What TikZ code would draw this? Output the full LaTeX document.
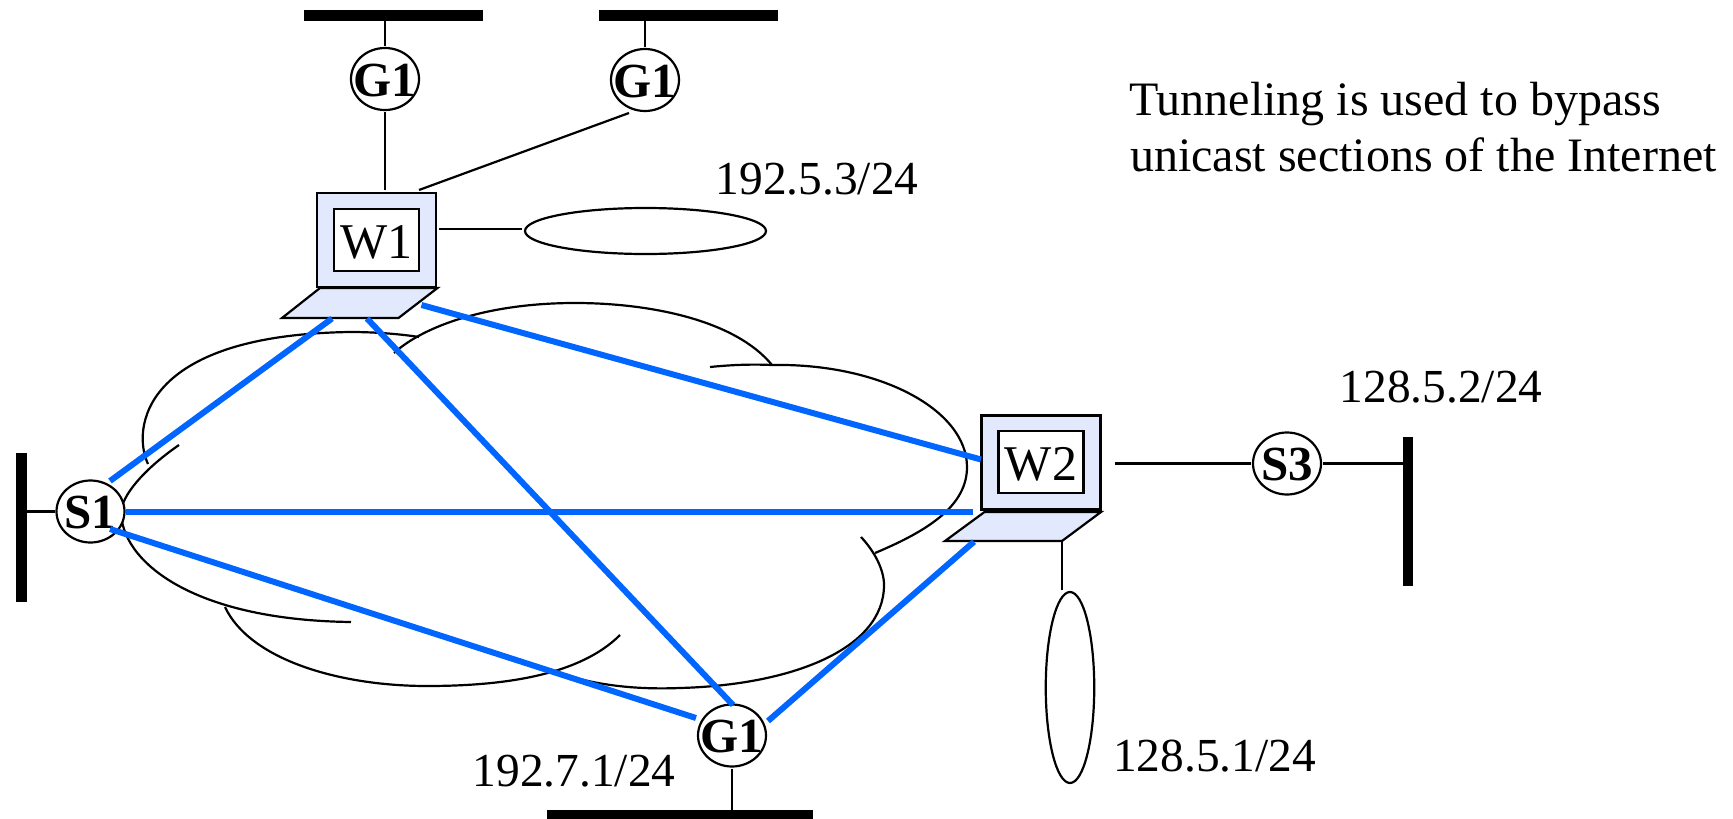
\documentclass[tikz,border=0pt]{standalone}
\usepackage{fontspec}
\setmainfont{Liberation Serif}
\usepackage{xcolor}
\usetikzlibrary{shapes.geometric}
\definecolor{TunnelBlue}{HTML}{0066FF}
\definecolor{HostBlue}{HTML}{E3E9FC}
\newcommand{\rname}[1]{\smash{\raisebox{-0.35em}{\makebox[0pt]{#1}}}}

\begin{document}
\begin{tikzpicture}[x=1pt, y=-1pt,
        label/.style={inner sep=0pt, anchor=base west, font=\fontsize{47.4}{50}\selectfont},
        note/.style={inner sep=0pt, anchor=base west, font=\fontsize{48}{50}\selectfont},
        router/.style={ellipse, draw, fill=white, line width=2.2pt, inner sep=0pt, minimum width=68pt, minimum height=62pt, outer sep=2pt, font=\fontsize{49}{50}\selectfont\bfseries},
        lan/.style={ellipse, draw, line width=2.2pt, inner sep=0pt, outer sep=2pt},
        bar/.style={fill=black, inner sep=0pt, outer sep=0pt},
        screen/.style={draw, fill=HostBlue, line width=2.5pt, inner sep=0pt, minimum width=119pt, minimum height=94pt},
        display/.style={draw, fill=white, line width=2.5pt, inner sep=0pt, minimum width=85pt, minimum height=62pt, text height=38pt, font=\fontsize{50}{50}\selectfont},
        keys/.style={draw, fill=HostBlue, line width=2.2pt},
        wire/.style={line width=2.2pt},
        cloud/.style={line width=2.2pt},
        tunnel/.style={line width=6pt, TunnelBlue}]
        \useasboundingbox (0,0) rectangle (1733,819);

        % the cloud
        \draw[cloud] (148,464) .. controls (132,430) and (140,335) .. (350,332) .. controls (375,332) and (400,334) .. (419,337);
        \draw[cloud] (179,445) .. controls (150,465) and (125,490) .. (121,510) .. controls (120,560) and (190,620) .. (351,622);
        \draw[cloud] (225,607) .. controls (250,660) and (340,686) .. (427,686) .. controls (505,686) and (580,675) .. (620,635);
        \draw[cloud] (546,668) .. controls (585,684) and (630,690) .. (680,688) .. controls (790,685) and (884,650) .. (884,585) .. controls (884,570) and (875,552) .. (861,537);
        \draw[cloud] (875,553) .. controls (930,530) and (967,505) .. (967,467) .. controls (967,410) and (880,363) .. (772,365) .. controls (750,364) and (730,365) .. (710,367);
        \draw[cloud] (772,365) .. controls (735,320) and (650,303) .. (575,303) .. controls (490,303) and (425,325) .. (394,353);

        % workstations
        \draw[keys] (320,288) -- (437.5,288) -- (398.5,318) -- (282,318) -- cycle;
        \node[screen] (w1box) at (376.5,240) {};
        \node[display] (w1) at (376.5,240) {W1};
        \draw[keys] (984.5,512) -- (1101,512) -- (1062,541) -- (945,541) -- cycle;
        \node[screen] (w2box) at (1041,462.5) {};
        \node[display] (w2) at (1041,462) {W2};

        % routers
        \node[router] (s1) at (90.5,511.5) {\rname{S1}};
        \node[router] (s3) at (1287,463.5) {\rname{S3}};
        \node[router] (g1a) at (385,79) {\rname{G1}};
        \node[router] (g1b) at (645,80) {\rname{G1}};
        \node[router] (g1c) at (732,735.5) {\rname{G1}};

        % networks
        \node[lan, minimum width=241pt, minimum height=46pt] (lan3) at (645.5,231) {};
        \node[lan, minimum width=48.5pt, minimum height=191pt] (lan1) at (1070,687.5) {};
        \node[bar, minimum width=179.5pt, minimum height=10.7pt] (bara) at (393.7,15.3) {};
        \node[bar, minimum width=179pt, minimum height=10.7pt] (barb) at (688.5,15.3) {};
        \node[bar, minimum width=10.5pt, minimum height=149pt] (bars) at (21.3,527.5) {};
        \node[bar, minimum width=10.5pt, minimum height=149pt] (barr) at (1408,511.5) {};
        \node[bar, minimum width=266pt, minimum height=9pt] (barg) at (680,814.5) {};

        % free ends of the links
        \coordinate (w1top) at (385,190);
        \coordinate (w1corner) at (419,190);
        \coordinate (w1right) at (439,229);
        \coordinate (lan3left) at (522,229);
        \coordinate (g1bfoot) at (629,113);
        \coordinate (w2right) at (1115,463.5);
        \coordinate (w2foot) at (1062,541);
        \coordinate (lan1top) at (1062,590);

        \draw[wire] (bara.south -| g1a) -- (g1a);
        \draw[wire] (barb.south -| g1b) -- (g1b);
        \draw[wire] (g1a) -- (w1top);
        \draw[wire] (g1bfoot) -- (w1corner);
        \draw[wire] (w1right) -- (lan3left);
        \draw[wire] (bars.east |- s1) -- (s1);
        \draw[wire] (w2right) -- (s3);
        \draw[wire] (s3) -- (barr.west |- s3);
        \draw[wire] (w2foot) -- (lan1top);
        \draw[wire] (g1c) -- (barg.north -| g1c);

        % tunnels
        \coordinate (t1a) at (332,318.5);
        \coordinate (t1b) at (110,481);
        \coordinate (t2a) at (367,318.5);
        \coordinate (t2b) at (733,705);
        \coordinate (t3a) at (421.5,305);
        \coordinate (t3b) at (981,459.5);
        \coordinate (t4a) at (126,511.7);
        \coordinate (t4b) at (973,511.7);
        \coordinate (t5a) at (110,529);
        \coordinate (t5b) at (696,718);
        \coordinate (t6a) at (974,541.7);
        \coordinate (t6b) at (768,721);
        \draw[tunnel] (t1a) -- (t1b);
        \draw[tunnel] (t2a) -- (t2b);
        \draw[tunnel] (t3a) -- (t3b);
        \draw[tunnel] (t4a) -- (t4b);
        \draw[tunnel] (t5a) -- (t5b);
        \draw[tunnel] (t6a) -- (t6b);

        % labels
        \node[label] (net3) at (715.5,194) {192.5.3/24};
        \node[label] (net2) at (1339.5,402.7) {128.5.2/24};
        \node[label] (net1) at (1113,771) {128.5.1/24};
        \node[label] (net7) at (472.5,786.7) {192.7.1/24};
        \node[note] (note1) at (1129,115) {Tunneling is used to bypass};
        \node[note] (note2) at (1130,171.7) {unicast sections of the Internet};
\end{tikzpicture}
\end{document}
